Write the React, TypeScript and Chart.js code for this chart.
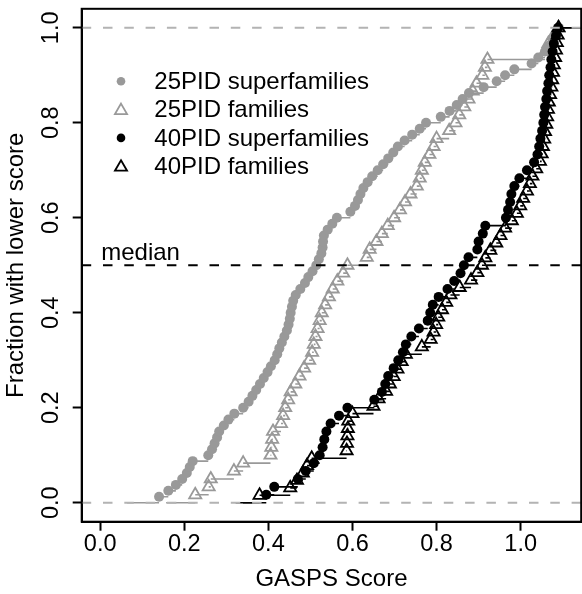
import React, { useEffect, useRef } from 'react';
import { Chart, registerables } from 'chart.js';

Chart.register(...registerables);

const FONT = "'Liberation Sans', Arial, sans-serif";

const X_TICKS = [0, 0.2, 0.4, 0.6, 0.8, 1.0];
const Y_TICKS = [0, 0.2, 0.4, 0.6, 0.8, 1.0];
const X_RANGE = [-0.044, 1.144];
const Y_RANGE = [-0.04, 1.04];

const X_TITLE = 'GASPS Score';
const Y_TITLE = 'Fraction with lower score';
const MEDIAN_LABEL = 'median';
const MEDIAN = 0.5;
const REF_LEVELS = [0, 1];

const SERIES_NAMES = ['25PID superfamilies', '25PID families', '40PID superfamilies', '40PID families'];
const SERIES_COLORS = ['#999999', '#999999', '#000000', '#000000'];
const SERIES_MARKERS = ['circle', 'triangle', 'circle', 'triangle'];

const SCORES_25PID_SUPERFAMILIES = [
  0.140, 0.162, 0.180, 0.195, 0.206, 0.213, 0.220, 0.257, 0.266, 0.272,
  0.278, 0.283, 0.294, 0.305, 0.319, 0.340, 0.353, 0.362, 0.371, 0.380,
  0.389, 0.398, 0.406, 0.415, 0.421, 0.426, 0.432, 0.438, 0.444, 0.448,
  0.451, 0.453, 0.456, 0.459, 0.465, 0.476, 0.487, 0.495, 0.505, 0.514,
  0.520, 0.526, 0.529, 0.530, 0.532, 0.541, 0.552, 0.563, 0.595, 0.606,
  0.613, 0.619, 0.626, 0.636, 0.647, 0.660, 0.673, 0.685, 0.697, 0.708,
  0.724, 0.742, 0.760, 0.775, 0.810, 0.831, 0.848, 0.862, 0.877, 0.912,
  0.943, 0.963, 0.985, 1.026, 1.042, 1.058, 1.068, 1.076, 1.084, 1.091,
];

const SCORES_25PID_FAMILIES = [
  0.226, 0.258, 0.263, 0.318, 0.340, 0.405, 0.407, 0.409, 0.411, 0.430,
  0.435, 0.440, 0.447, 0.453, 0.464, 0.474, 0.485, 0.497, 0.504, 0.508,
  0.512, 0.517, 0.522, 0.527, 0.535, 0.544, 0.553, 0.564, 0.578, 0.588,
  0.634, 0.641, 0.657, 0.670, 0.684, 0.699, 0.713, 0.725, 0.738, 0.753,
  0.760, 0.765, 0.772, 0.783, 0.793, 0.800, 0.830, 0.845, 0.854, 0.866,
  0.876, 0.886, 0.895, 0.909, 0.915, 0.921, 1.058, 1.066, 1.078, 1.090,
];

const SCORES_40PID_SUPERFAMILIES = [
  0.395, 0.414, 0.470, 0.489, 0.508, 0.522, 0.529, 0.533, 0.538, 0.548,
  0.568, 0.588, 0.652, 0.670, 0.678, 0.685, 0.698, 0.709, 0.720, 0.727,
  0.740, 0.758, 0.779, 0.785, 0.791, 0.805, 0.826, 0.842, 0.857, 0.865,
  0.876, 0.897, 0.900, 0.910, 0.916, 0.965, 0.970, 0.975, 0.978, 0.985,
  0.997, 1.015, 1.032, 1.040, 1.044, 1.047, 1.051, 1.054, 1.056, 1.058,
  1.061, 1.063, 1.066, 1.068, 1.071, 1.073, 1.076, 1.079, 1.084, 1.089,
];

const SCORES_40PID_FAMILIES = [
  0.379, 0.452, 0.468, 0.482, 0.492, 0.503, 0.586, 0.587, 0.588, 0.589,
  0.590, 0.600, 0.650, 0.662, 0.680, 0.689, 0.698, 0.707, 0.717, 0.727,
  0.765, 0.786, 0.793, 0.799, 0.804, 0.813, 0.823, 0.833, 0.855, 0.882,
  0.897, 0.908, 0.916, 0.928, 0.942, 0.952, 0.963, 0.979, 0.991, 0.999,
  1.006, 1.015, 1.022, 1.028, 1.037, 1.046, 1.050, 1.053, 1.056, 1.058,
  1.061, 1.063, 1.065, 1.067, 1.070, 1.073, 1.075, 1.077, 1.079, 1.082,
  1.084, 1.086, 1.088, 1.090,
];

const SERIES_SCORES = [
  SCORES_25PID_SUPERFAMILIES,
  SCORES_25PID_FAMILIES,
  SCORES_40PID_SUPERFAMILIES,
  SCORES_40PID_FAMILIES,
];

// empirical CDF: horizontal steps (no verticals), like R's plot.ecdf
function ecdfSteps(xs: number[]) {
  const n = xs.length;
  const dr = 0.08 * (xs[n - 1] - xs[0]);
  const pts: any[] = [];
  pts.push({ x: xs[0] - dr, y: 0 }, { x: xs[0], y: 0 }, { x: xs[0], y: null });
  for (let i = 0; i < n; i++) {
    const f = (i + 1) / n;
    const xr = i < n - 1 ? xs[i + 1] : xs[n - 1] + dr;
    pts.push({ x: xs[i], y: f }, { x: xr, y: f }, { x: xr, y: null });
  }
  return pts;
}

function ecdfPoints(xs: number[]) {
  const n = xs.length;
  return xs.map((x, i) => ({ x, y: (i + 1) / n }));
}

const DOT_R = 5;
const TRI_R = 7;
const LEG_DOT_R = 4.3;

function drawMarker(ctx: CanvasRenderingContext2D, style: string, color: string, cx: number, cy: number) {
  ctx.save();
  if (style === 'circle') {
    ctx.fillStyle = color;
    ctx.beginPath();
    ctx.arc(cx, cy, LEG_DOT_R, 0, Math.PI * 2);
    ctx.fill();
  } else {
    ctx.strokeStyle = color;
    ctx.lineWidth = 1.8;
    ctx.beginPath();
    for (let k = 0; k < 3; k++) {
      const a = (k * 2 * Math.PI) / 3;
      const px = cx + Math.sin(a) * TRI_R;
      const py = cy - Math.cos(a) * TRI_R;
      if (k === 0) ctx.moveTo(px, py);
      else ctx.lineTo(px, py);
    }
    ctx.closePath();
    ctx.stroke();
  }
  ctx.restore();
}

const decorPlugin = {
  id: 'decor',
  afterDraw(chart: any) {
    const { ctx, chartArea: a, scales } = chart;
    ctx.save();
    // plot box
    ctx.strokeStyle = '#000';
    ctx.lineWidth = 2;
    ctx.strokeRect(a.left, a.top, a.right - a.left, a.bottom - a.top);
    // median label
    ctx.fillStyle = '#000';
    ctx.font = `24px ${FONT}`;
    ctx.textAlign = 'left';
    ctx.textBaseline = 'alphabetic';
    ctx.fillText(MEDIAN_LABEL, scales.x.getPixelForValue(0) + 1, scales.y.getPixelForValue(MEDIAN) - 5);
    // legend
    const mx = a.left + 39.3;
    const tx = a.left + 72.6;
    const y0 = a.top + 72.5;
    const dy = 28.3;
    ctx.textBaseline = 'middle';
    SERIES_NAMES.forEach((name, k) => {
      const cy = y0 + k * dy;
      drawMarker(ctx, SERIES_MARKERS[k], SERIES_COLORS[k], mx, cy + (SERIES_MARKERS[k] === 'triangle' ? 1 : 0));
      ctx.fillStyle = '#000';
      ctx.fillText(name, tx, cy + 1);
    });
    ctx.restore();
  },
};

export default function App() {
  const ref = useRef<HTMLCanvasElement | null>(null);

  useEffect(() => {
    const canvas = ref.current;
    if (!canvas) return;

    const datasets: any[] = [];
    SERIES_SCORES.forEach((xs, k) => {
      const color = SERIES_COLORS[k];
      datasets.push({
        label: SERIES_NAMES[k] + ' steps',
        data: ecdfSteps(xs),
        showLine: true,
        spanGaps: false,
        borderColor: color,
        borderWidth: 1.6,
        pointRadius: 0,
        fill: false,
        order: 20 - 2 * k,
      });
      const tri = SERIES_MARKERS[k] === 'triangle';
      datasets.push({
        label: SERIES_NAMES[k],
        data: ecdfPoints(xs),
        showLine: false,
        pointStyle: SERIES_MARKERS[k],
        pointRadius: tri ? TRI_R : DOT_R,
        pointBorderWidth: tri ? 1.8 : 0,
        pointBorderColor: color,
        pointBackgroundColor: tri ? 'rgba(0,0,0,0)' : color,
        order: 19 - 2 * k,
      });
    });
    REF_LEVELS.forEach((lv) => {
      datasets.push({
        label: 'ref ' + lv,
        data: [{ x: X_RANGE[0], y: lv }, { x: X_RANGE[1], y: lv }],
        showLine: true,
        borderColor: '#b3b3b3',
        borderWidth: 2,
        borderDash: [9.5, 11.8],
        pointRadius: 0,
        order: 1,
      });
    });
    datasets.push({
      label: 'median line',
      data: [{ x: X_RANGE[0], y: MEDIAN }, { x: X_RANGE[1], y: MEDIAN }],
      showLine: true,
      borderColor: '#000000',
      borderWidth: 2,
      borderDash: [9.5, 11.8],
      pointRadius: 0,
      order: 0,
    });

    const chart = new Chart(canvas, {
      type: 'scatter',
      data: { datasets },
      plugins: [decorPlugin],
      options: {
        animation: false,
        responsive: false,
        devicePixelRatio: 1,
        events: [],
        layout: { padding: { top: 7.5, right: 3.3, left: 0, bottom: 0 } },
        plugins: { legend: { display: false }, tooltip: { enabled: false } },
        scales: {
          x: {
            type: 'linear',
            min: X_RANGE[0],
            max: X_RANGE[1],
            afterFit: (s: any) => {
              s.height = 72.3;
              s.paddingLeft = 0;
              s.paddingRight = 0;
              s.paddingTop = 0;
              s.paddingBottom = 0;
            },
            afterBuildTicks: (s: any) => { s.ticks = X_TICKS.map((v) => ({ value: v })); },
            ticks: {
              callback: (v: any) => Number(v).toFixed(1),
              font: { family: FONT, size: 23.5, lineHeight: 1.15 },
              color: '#000',
              padding: 0,
              maxRotation: 0,
              minRotation: 0,
              autoSkip: false,
            },
            grid: { display: true, drawOnChartArea: false, drawTicks: true, tickLength: 9, tickWidth: 2, tickColor: '#000', color: '#000' },
            border: { display: true, color: '#000', width: 2 },
            title: { display: true, text: X_TITLE, font: { family: FONT, size: 24 }, color: '#000', padding: { top: 0, bottom: 0.6 } },
          },
          y: {
            type: 'linear',
            min: Y_RANGE[0],
            max: Y_RANGE[1],
            afterFit: (s: any) => {
              s.width = 81.7;
              s.paddingLeft = 0;
              s.paddingRight = 0;
              s.paddingTop = 0;
              s.paddingBottom = 0;
            },
            afterBuildTicks: (s: any) => { s.ticks = Y_TICKS.map((v) => ({ value: v })); },
            ticks: {
              callback: (v: any) => Number(v).toFixed(1),
              font: { family: FONT, size: 23.5 },
              color: '#000',
              padding: 5.2,
              minRotation: 90,
              maxRotation: 90,
              crossAlign: 'center',
              autoSkip: false,
            },
            grid: { display: true, drawOnChartArea: false, drawTicks: true, tickLength: 9, tickWidth: 2, tickColor: '#000', color: '#000' },
            border: { display: true, color: '#000', width: 2 },
            title: { display: true, text: Y_TITLE, font: { family: FONT, size: 24 }, color: '#000', padding: { top: 2.3, bottom: 0 } },
          },
        },
      } as any,
    });
    return () => chart.destroy();
  }, []);

  return (
    <div style={{ position: 'fixed', left: 0, top: 0, width: 582, height: 594, overflow: 'hidden', background: '#fff' }}>
      <canvas ref={ref} width={590} height={594} style={{ display: 'block' }} />
    </div>
  );
}
